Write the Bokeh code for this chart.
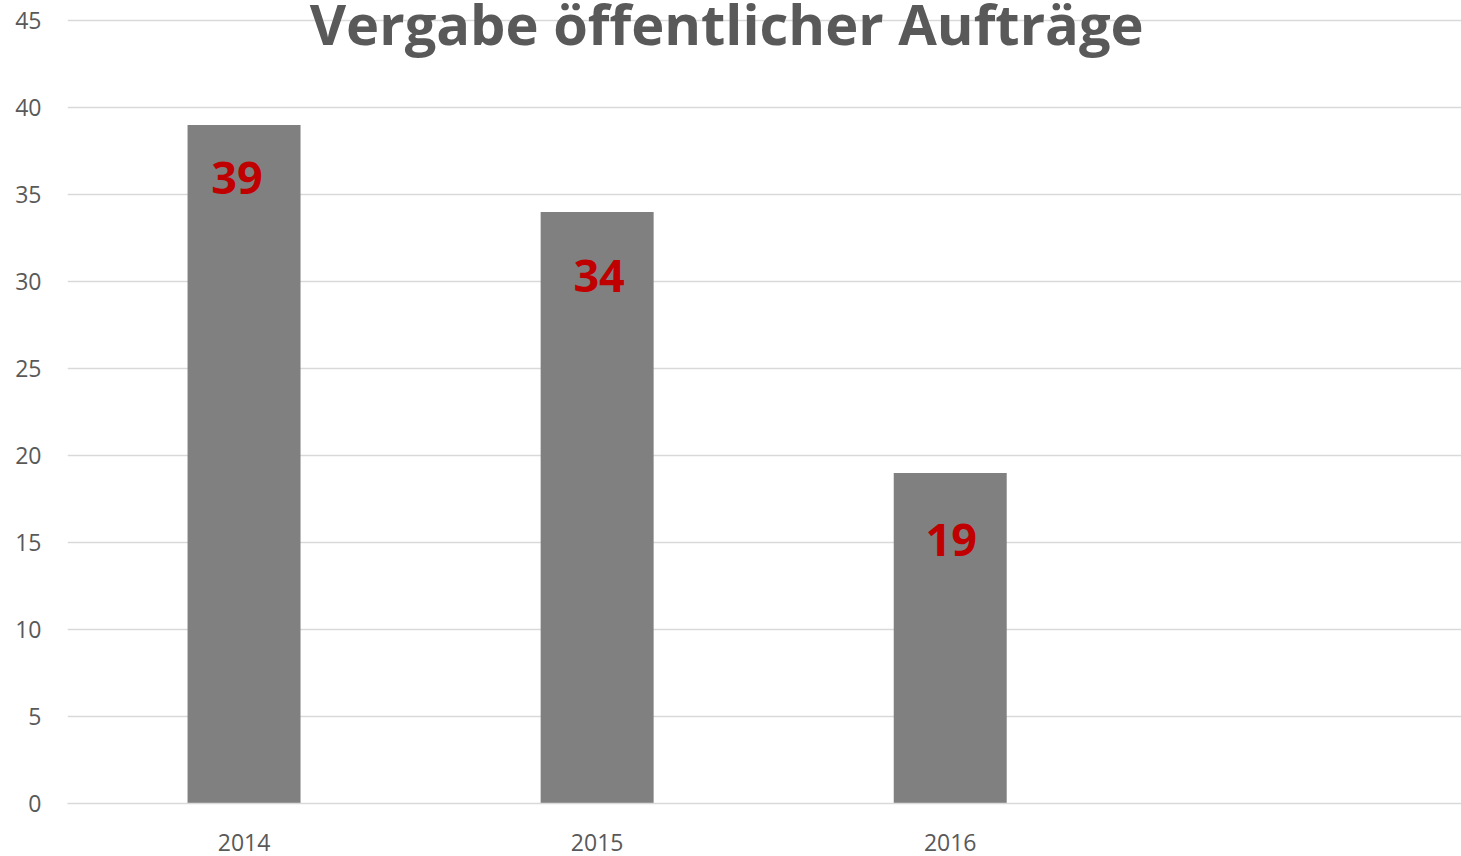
from bokeh.plotting import figure
from bokeh.models import ColumnDataSource, LabelSet, Label, FixedTicker, Range1d
from bokeh.core.properties import value
from bokeh.embed import file_html
from bokeh.resources import INLINE

# ---- data ----
years = [2014, 2015, 2016]
year_labels = ["2014", "2015", "2016"]
counts = [39, 34, 19]
title_text = "Vergabe öffentlicher Aufträge"
y_ticks = [0, 5, 10, 15, 20, 25, 30, 35, 40, 45]

# ---- style ----
label_dx = [-7, 2, 1]
label_dy = [-53, -64, -67]
px_per_unit = 17.4

src = ColumnDataSource(dict(x=years, top=counts, txt=[str(c) for c in counts],
                            dx=label_dx, dy=label_dy))

p = figure(width=1461, height=856, output_backend="svg", toolbar_location=None,
           x_range=Range1d(2013.5, 2017.448), y_range=Range1d(0, 803 / px_per_unit),
           min_border_left=67, min_border_right=0, min_border_top=0, min_border_bottom=53)
p.outline_line_color = None
p.background_fill_color = "white"
p.border_fill_color = "white"

p.vbar(x="x", top="top", width=0.32, bottom=0, source=src, fill_color="#808080", line_color=None)

p.xgrid.grid_line_color = None
p.ygrid.grid_line_color = "#D9D9D9"
p.ygrid.grid_line_width = 1.5
p.yaxis.ticker = FixedTicker(ticks=y_ticks)
p.xaxis.ticker = FixedTicker(ticks=years)
p.xaxis.major_label_overrides = {y: l for y, l in zip(years, year_labels)}

for ax in (p.xaxis[0], p.yaxis[0]):
    ax.major_tick_line_color = None
    ax.minor_tick_line_color = None
    ax.major_tick_out = 0
    ax.major_tick_in = 0
    ax.major_label_text_font = "Open Sans"
    ax.major_label_text_font_size = "23px"
    ax.major_label_text_color = "#595959"
p.yaxis.axis_line_color = None
p.xaxis.axis_line_color = "#D9D9D9"
p.xaxis.axis_line_width = 1.5
p.yaxis.major_label_standoff = 26
p.xaxis.major_label_standoff = 30

labels = LabelSet(x="x", y="top", text="txt", source=src, x_offset="dx", y_offset="dy",
                  text_align="center", text_baseline="middle",
                  text_font=value("Open Sans"), text_font_style="bold", text_font_size="45px",
                  text_color="#C00000")
p.add_layout(labels)

title = Label(x=2014 + (725.5 - 243) / 353.0, y=(803 - 22) / px_per_unit, text=title_text,
              text_align="center", text_baseline="alphabetic",
              text_font="Open Sans", text_font_style="bold", text_font_size="56px",
              text_color="#595959")
p.add_layout(title)

open("out.html", "w").write(file_html(p, INLINE))
